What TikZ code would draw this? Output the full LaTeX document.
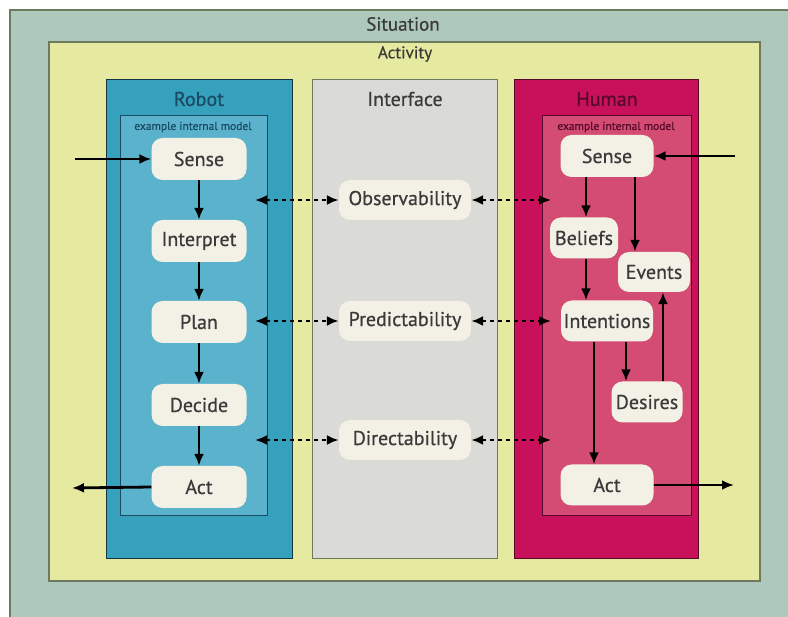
\documentclass[tikz,border=0pt]{standalone}
\usepackage{fontspec}
\setmainfont{PT Sans}[FakeBold=0.6]
\usetikzlibrary{arrows.meta}
\definecolor{sitcol}{HTML}{AFC8BC}
\definecolor{actcol}{HTML}{E6EAA0}
\definecolor{robcol}{HTML}{36A1BC}
\definecolor{robin}{HTML}{5AB2CC}
\definecolor{humcol}{HTML}{C9105A}
\definecolor{humin}{HTML}{D44C73}
\definecolor{intcol}{HTML}{DADAD6}
\definecolor{nodecol}{HTML}{F3F1E6}
\definecolor{txtcol}{HTML}{3A3A3A}
\definecolor{robtitle}{HTML}{1B4B63}
\definecolor{humtitle}{HTML}{560A29}
\definecolor{edgecol}{HTML}{6E7A5E}
\tikzset{
  stepnode/.style={rounded corners=11pt, fill=nodecol, text=txtcol, font=\fontsize{20}{22}\selectfont, minimum height=42pt, inner sep=2pt},
  flow/.style={-{Latex[length=12pt,width=10pt]}, line width=2.8pt, black},
  dotarrow/.style={{Latex[length=12pt,width=10pt]}-{Latex[length=12pt,width=10pt]}, line width=2.8pt, dash pattern=on 4pt off 4pt, black},
  title/.style={font=\fontsize{19}{21}\selectfont, text=txtcol},
  small/.style={font=\fontsize{11.5}{13}\selectfont}
}
\begin{document}
\begin{tikzpicture}[x=1pt,y=-1pt]
\useasboundingbox (0,0) rectangle (788,617);
\fill[white] (0,0) rectangle (788,617);
% situation
\fill[sitcol] (10,10) rectangle (788,617);
\draw[edgecol, line width=1.2pt] (10,617) -- (10,10) -- (788,10);
\node[title] (situation) at (403,24) {Situation};
% activity
\fill[actcol, draw=edgecol, line width=1.2pt] (49,42) rectangle (760,581);
\node[title, font=\fontsize{17}{19}\selectfont] (activity) at (405,54) {Activity};
% columns
\fill[robcol, draw=robtitle!70!black, line width=1pt] (106,80) rectangle (292,559);
\fill[intcol, draw=edgecol, line width=1pt] (312,80) rectangle (497,559);
\fill[humcol, draw=humtitle, line width=1pt] (514,80) rectangle (698,559);
\node[title, text=robtitle, font=\fontsize{20}{22}\selectfont] (robot) at (199,99) {Robot};
\node[title, font=\fontsize{20}{22}\selectfont] (interface) at (405,99) {Interface};
\node[title, text=humtitle, font=\fontsize{20}{22}\selectfont] (human) at (607,99) {Human};
% inner panels
\fill[robin, draw=robtitle, line width=1pt] (120,116) rectangle (267,516);
\fill[humin, draw=humtitle, line width=1pt] (542,116) rectangle (691,516);
\node[small, text=robtitle] (rmodel) at (193,127) {example internal model};
\node[small, text=humtitle] (hmodel) at (616,127) {example internal model};
% robot nodes
\node[stepnode, minimum width=95pt] (rsense) at (199,159) {Sense};
\node[stepnode, minimum width=95pt] (rinterp) at (199,241) {Interpret};
\node[stepnode, minimum width=95pt] (rplan) at (199,322) {Plan};
\node[stepnode, minimum width=95pt] (rdecide) at (199,405) {Decide};
\node[stepnode, minimum width=95pt] (ract) at (199,487) {Act};
\coordinate (rin) at (75,159);
\coordinate (rout) at (72,488);
\draw[flow] (rin) -- (rsense);
\draw[flow] (ract.west) -- (rout);
\draw[flow] (rsense) -- (rinterp);
\draw[flow] (rinterp) -- (rplan);
\draw[flow] (rplan) -- (rdecide);
\draw[flow] (rdecide) -- (ract);
% interface nodes
\node[stepnode, minimum width=132pt, minimum height=40pt] (obs) at (405,200) {Observability};
\node[stepnode, minimum width=132pt, minimum height=40pt] (pred) at (405,321) {Predictability};
\node[stepnode, minimum width=132pt, minimum height=40pt] (dir) at (405,440) {Directability};
\coordinate (robsL) at (255,200);
\coordinate (rpredL) at (255,321);
\coordinate (rdirL) at (255,440);
\coordinate (hobsR) at (551,200);
\coordinate (hpredR) at (551,321);
\coordinate (hdirR) at (551,440);
\draw[dotarrow] (robsL) -- (obs.west);
\draw[dotarrow] (rpredL) -- (pred.west);
\draw[dotarrow] (rdirL) -- (dir.west);
\draw[dotarrow] (obs.east) -- (hobsR);
\draw[dotarrow] (pred.east) -- (hpredR);
\draw[dotarrow] (dir.east) -- (hdirR);
% human nodes
\node[stepnode, minimum width=93pt] (hsense) at (607,156) {Sense};
\node[stepnode, minimum width=68pt, minimum height=41pt] (beliefs) at (584,238) {Beliefs};
\node[stepnode, minimum width=72pt, minimum height=40pt] (events) at (654,272) {Events};
\node[stepnode, minimum width=92pt, minimum height=41pt] (intent) at (607,321) {Intentions};
\node[stepnode, minimum width=71pt, minimum height=41pt] (desires) at (647,402) {Desires};
\node[stepnode, minimum width=93pt, minimum height=41pt] (hact) at (607,485) {Act};
\coordinate (hin) at (735,156);
\coordinate (hout) at (734,485);
\draw[flow] (hin) -- (hsense.east);
\draw[flow] (hact.east) -- (hout);
\draw[flow] (hsense.south -| 586,0) -- (beliefs.north -| 586,0);
\draw[flow] (hsense.south -| 635,0) -- (events.north -| 635,0);
\draw[flow] (beliefs.south -| 586,0) -- (intent.north -| 586,0);
\draw[flow] (intent.south -| 626,0) -- (desires.north -| 626,0);
\draw[flow] (desires.north -| 663,0) -- (events.south -| 663,0);
\draw[flow] (intent.south -| 594,0) -- (hact.north -| 594,0);
\end{tikzpicture}
\end{document}
